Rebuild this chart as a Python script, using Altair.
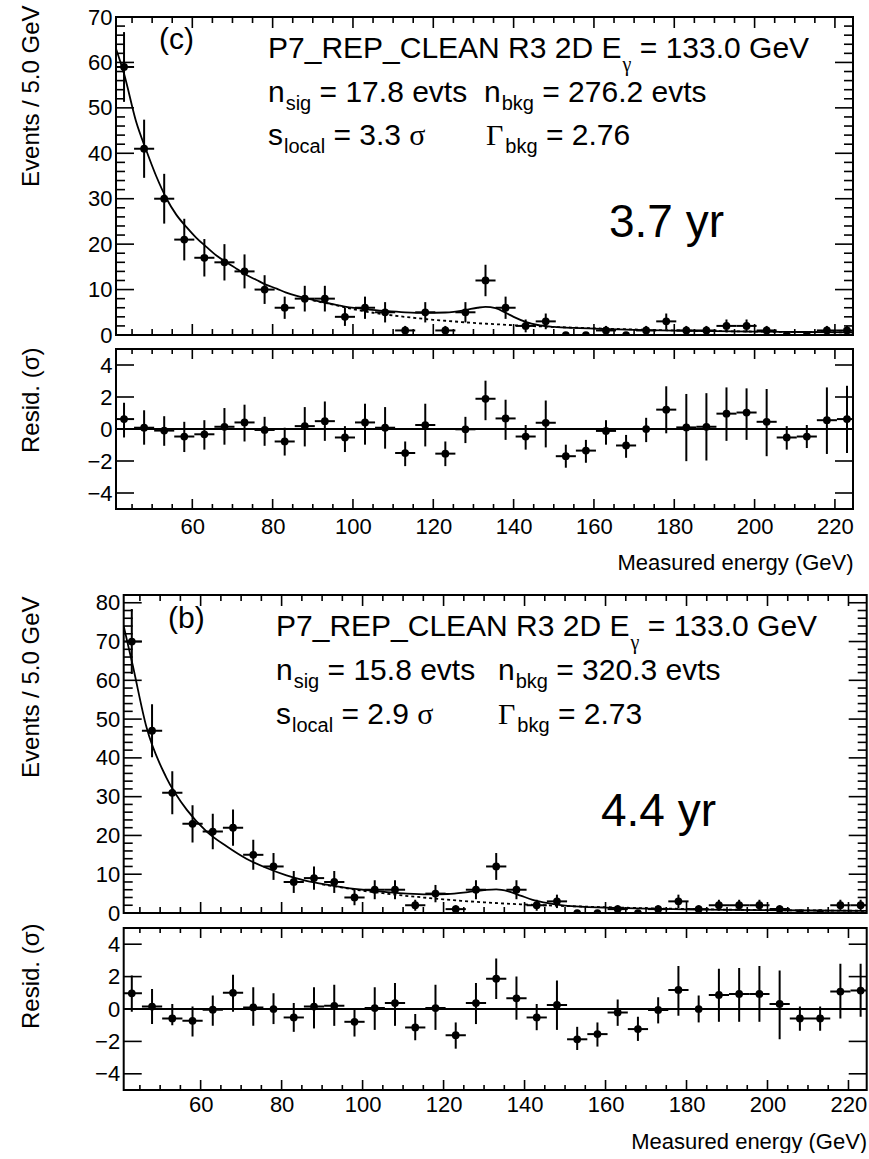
import math
import altair as alt
import pandas as pd

FONT = "Liberation Sans"
GREEK = "Liberation Serif"

# ---------------- data ----------------
ENERGY = [43, 48, 53, 58, 63, 68, 73, 78, 83, 88, 93, 98, 103, 108, 113, 118, 123,
          128, 133, 138, 143, 148, 153, 158, 163, 168, 173, 178, 183, 188, 193, 198,
          203, 208, 213, 218, 223]
HALF_BIN = 2.5

# (c) 3.7 yr
COUNTS_C = [59, 41, 30, 21, 17, 16, 14, 10, 6, 8, 8, 4, 6, 5, 1, 5, 1, 5, 12, 6,
            2, 3, 0, 0, 1, 0, 1, 3, 1, 1, 2, 2, 1, 0, 0, 1, 1]
RESID_C = [0.62, 0.08, -0.10, -0.47, -0.33, 0.14, 0.41, -0.06, -0.78, 0.18, 0.49, -0.53,
           0.41, 0.08, -1.50, 0.25, -1.54, -0.02, 1.89, 0.66, -0.47, 0.39, -1.70, -1.35,
           -0.12, -1.03, 0.00, 1.21, 0.10, 0.14, 0.96, 1.03, 0.45, -0.53, -0.47, 0.55, 0.62]
RESID_C_HI = [1.64, 1.17, 0.80, 0.45, 0.55, 1.31, 1.52, 0.76, 0.08, 1.37, 1.72, 0.18,
              1.58, 1.37, -0.78, 1.58, -0.78, 0.76, 3.02, 1.83, 0.25, 1.78, -0.98, -0.68,
              0.55, -0.37, 0.70, 2.67, 2.19, 2.24, 2.60, 2.54, 2.50, 0.18, 0.25, 2.60, 2.70]
RESID_C_LO = [-0.53, -0.98, -1.05, -1.44, -1.29, -0.98, -0.78, -1.05, -1.66, -1.09, -0.74, -1.44,
              -0.98, -1.23, -2.32, -1.09, -2.32, -0.88, 0.55, -0.68, -1.29, -1.15, -2.42, -2.11,
              -0.98, -1.80, -0.82, -0.27, -2.01, -1.97, -0.74, -0.68, -1.70, -1.29, -1.19, -1.56, -1.50]
CURVE_C_E = [41, 43, 46, 48.6, 51, 53.6, 56, 58.5, 61, 63.5, 66, 68.5, 71, 73.3, 76, 78.3,
             81, 83.2, 86, 88.2, 91, 93.1, 96, 98.3, 101, 104, 108, 113, 118, 123, 128, 131,
             133, 135.5, 138, 140, 143, 146, 150, 155, 160, 170, 180, 190, 200, 212, 224.5]
CURVE_C = [63, 57.5, 47, 40.5, 35, 30, 26.5, 23.8, 21.4, 19.4, 17.5, 16.0, 14.6, 13.3, 12.1, 11.1,
           10.2, 9.4, 8.6, 8.1, 7.5, 7.1, 6.6, 6.2, 5.9, 5.6, 5.3, 5.0, 4.85, 4.95, 5.5, 6.0,
           6.2, 5.9, 4.9, 4.0, 2.9, 2.2, 1.8, 1.55, 1.4, 1.15, 0.98, 0.85, 0.75, 0.66, 0.58]
BKG_C_E = [90, 96, 100, 105, 110, 115, 120, 125, 130, 135, 140, 145, 150, 160, 170, 180, 190,
           200, 212, 224.5]
BKG_C = [7.6, 6.5, 5.7, 4.9, 4.3, 3.8, 3.35, 3.0, 2.65, 2.4, 2.15, 1.95, 1.78, 1.48, 1.22,
         1.02, 0.87, 0.75, 0.65, 0.57]

# (b) 4.4 yr
COUNTS_B = [70, 47, 31, 23, 21, 22, 15, 12, 8, 9, 8, 4, 6, 6, 2, 5, 1, 6, 12, 6,
            2, 3, 0, 0, 1, 0, 1, 3, 1, 2, 2, 2, 1, 0, 0, 2, 2]
RESID_B = [0.97, 0.15, -0.58, -0.73, -0.04, 1.00, 0.10, 0.00, -0.52, 0.15, 0.20, -0.79,
           0.06, 0.37, -1.14, 0.06, -1.62, 0.37, 1.87, 0.66, -0.52, 0.25, -1.87, -1.55,
           -0.21, -1.24, -0.06, 1.18, 0.00, 0.87, 0.93, 0.93, 0.31, -0.58, -0.58, 1.08, 1.14]
RESID_B_HI = [2.07, 1.24, 0.31, 0.15, 0.83, 2.11, 1.35, 0.97, 0.37, 1.35, 1.49, 0.00,
              1.35, 1.60, -0.31, 1.49, -0.83, 1.60, 3.11, 2.00, 0.31, 1.76, -1.10, -0.83,
              0.58, -0.48, 0.73, 2.65, 0.83, 2.49, 2.53, 2.65, 2.38, 0.15, 0.15, 2.80, 2.80]
RESID_B_LO = [-0.17, -0.93, -1.00, -1.70, -1.04, -0.17, -1.04, -0.93, -1.41, -1.20, -1.04, -1.70,
              -1.29, -1.04, -1.93, -1.29, -2.45, -0.93, 0.62, -0.66, -1.31, -1.29, -2.53, -2.32,
              -1.04, -1.97, -0.89, -0.41, -0.83, -0.79, -0.79, -0.79, -1.87, -1.35, -1.35, -0.58, -0.48]
CURVE_B_E = [41, 43.2, 46.6, 51.5, 56.6, 61.5, 66.4, 71.3, 76.3, 81.2, 86.1, 91.1, 96, 101,
             106, 111, 116, 121, 126, 130, 133, 136, 139, 142, 146, 150, 155, 160, 170, 180,
             190, 200, 212, 224.5]
CURVE_B = [74, 64, 48, 35, 26.6, 21, 17.2, 14, 11.6, 9.7, 8.3, 7.3, 6.5, 5.9,
           5.4, 5.0, 4.8, 4.9, 5.4, 5.9, 6.1, 5.6, 4.5, 3.4, 2.5, 1.9, 1.6, 1.4, 1.12, 0.95,
           0.82, 0.72, 0.64, 0.57]
BKG_B_E = [90, 95, 100, 105, 110, 115, 120, 125, 130, 135, 140, 145, 150, 160, 170, 180, 190,
           200, 212, 224.5]
BKG_B = [7.4, 6.55, 5.75, 5.1, 4.5, 4.0, 3.5, 3.1, 2.75, 2.45, 2.2, 1.98, 1.8, 1.5, 1.24,
         1.04, 0.88, 0.76, 0.65, 0.56]

X_LABELS = [60, 80, 100, 120, 140, 160, 180, 200, 220]
X_MINOR = [45, 50, 55, 65, 70, 75, 85, 90, 95, 105, 110, 115, 125, 130, 135, 145, 150, 155,
           165, 170, 175, 185, 190, 195, 205, 210, 215]
Y_MAJOR_C = [0, 10, 20, 30, 40, 50, 60, 70]
Y_MAJOR_B = [0, 10, 20, 30, 40, 50, 60, 70, 80]
Y_MINOR_C = [v for v in range(2, 70, 2) if v % 10]
Y_MINOR_B = [v for v in range(2, 82, 2) if v % 10]
RESID_TICKS = [-4, -2, 0, 2, 4]

X_MIN, X_MAX = 41.0, 224.5

# ---------------- helpers ----------------
ADV = {" ": 278, "(": 333, ")": 333, ".": 278, "/": 278, "=": 584, "_": 556,
       "A": 667, "C": 722, "D": 722, "E": 667, "G": 778, "L": 556, "N": 722, "P": 667,
       "R": 722, "V": 667, "a": 556, "b": 556, "c": 500, "e": 556, "g": 556, "i": 222,
       "k": 500, "l": 222, "n": 556, "o": 556, "r": 333, "s": 500, "t": 278, "v": 500,
       "y": 500, "σ": 560, "γ": 450, "Γ": 610}


def tw(s, size):
    return sum(ADV.get(ch, 556) for ch in s) * size / 1000.0


MAIN_SIZE = 30
SUB_SIZE = 20
YR_SIZE = 46


def rich_line(segments, x0, y0):
    """segments: list of (text, kind) kind in n, s, g, gs -> list of text pieces"""
    out = []
    x = x0
    for text, kind in segments:
        size = MAIN_SIZE if kind in ("n", "g") else SUB_SIZE
        font = GREEK if kind in ("g", "gs") else FONT
        lead = len(text) - len(text.lstrip(" "))
        x += tw(" " * lead, size)
        body = text.lstrip(" ")
        dy = {"n": 0, "g": 0, "s": 8, "gs": 13}[kind]
        pad = 1 if kind in ("s", "gs") else 0
        out.append((body, x + pad, y0 + dy, size, font))
        x += tw(body, size) + pad
    return out


def text_layers(pieces, ox, oy):
    layers = []
    for text, x, y, size, font in pieces:
        layers.append(
            alt.Chart(pd.DataFrame({"k": [0]}))
            .mark_text(text=text, font=font, fontSize=size, color="black",
                       align="left", baseline="alphabetic")
            .encode(x=alt.value(x - ox), y=alt.value(y - oy))
        )
    return layers


def tick_layers(w, h, y_major, y_minor, xl_major, xl_minor, yl_major, yl_minor, X, Y):
    layers = []
    for vals, L in ((X_LABELS, xl_major), (X_MINOR, xl_minor)):
        d = pd.DataFrame({"e": vals})
        b = alt.Chart(d).mark_rule(color="black", strokeWidth=1.6)
        layers.append(b.encode(x=X("e"), y=alt.value(h), y2=alt.value(h - L)))
        layers.append(b.encode(x=X("e"), y=alt.value(0), y2=alt.value(L)))
    for vals, L in ((y_major, yl_major), (y_minor, yl_minor)):
        if not vals:
            continue
        d = pd.DataFrame({"v": vals})
        b = alt.Chart(d).mark_rule(color="black", strokeWidth=1.6)
        layers.append(b.encode(y=Y("v"), x=alt.value(0), x2=alt.value(L)))
        layers.append(b.encode(y=Y("v"), x=alt.value(w - L), x2=alt.value(w)))
    return layers


def y_axis(values, title_x, title_y):
    return alt.Axis(values=values, labelFontSize=22, labelFont=FONT, labelColor="black",
                    ticks=False, tickSize=0, domain=False, grid=False, labelPadding=4,
                    labelFlush=False, labelOverlap=False,
                    titleFontSize=24, titleFont=FONT, titleFontWeight="normal",
                    titleColor="black", titleAngle=270, titleAlign="right",
                    titleBaseline="bottom", titleX=title_x, titleY=title_y)


def main_panel(counts, ce, cv, be, bv, ymax, y_major, y_minor, w, h, pieces, ox, oy, tx, ty):
    df = pd.DataFrame({"e": ENERGY, "n": counts})
    df["elo"] = df["e"] - HALF_BIN
    df["ehi"] = df["e"] + HALF_BIN
    df["lo"] = [c - math.sqrt(c) for c in counts]
    df["hi"] = [c + math.sqrt(c) for c in counts]
    xs = alt.Scale(domain=[X_MIN, X_MAX], nice=False, zero=False)
    ys = alt.Scale(domain=[0, ymax], nice=False, zero=False)
    ax = y_axis(y_major, tx, ty)

    def X(f):
        return alt.X(f, type="quantitative", scale=xs, axis=None)

    def Y(f):
        return alt.Y(f, type="quantitative", scale=ys, axis=ax, title="Events / 5.0 GeV")

    cdf = pd.DataFrame({"e": ce, "v": cv})
    bdf = pd.DataFrame({"e": be, "v": bv})
    dotted = alt.Chart(bdf).mark_line(color="black", strokeWidth=1.8, strokeDash=[3, 3],
                                      interpolate="monotone", clip=True).encode(x=X("e"), y=Y("v"))
    solid = alt.Chart(cdf).mark_line(color="black", strokeWidth=1.8,
                                     interpolate="monotone", clip=True).encode(x=X("e"), y=Y("v"))
    base = alt.Chart(df)
    hbar = base.mark_rule(color="black", strokeWidth=2, clip=True).encode(
        x=X("elo"), x2="ehi", y=Y("n"))
    vbar = base.transform_filter("datum.n > 0").mark_rule(
        color="black", strokeWidth=2, clip=True).encode(x=X("e"), y=Y("lo"), y2="hi")
    pts = base.mark_point(filled=True, shape="circle", size=60, color="black",
                          opacity=1, clip=True).encode(x=X("e"), y=Y("n"))
    layers = [dotted, solid, hbar, vbar, pts]
    layers += tick_layers(w, h, y_major, y_minor, 11, 6, 18, 9, X, Y)
    layers += text_layers(pieces, ox, oy)
    return alt.layer(*layers).properties(width=w, height=h)


def resid_panel(res, hi, lo, w, h, tx, ty, label_pad, xt_y):
    df = pd.DataFrame({"e": ENERGY, "r": res, "hi": hi, "lo": lo})
    df["elo"] = df["e"] - HALF_BIN
    df["ehi"] = df["e"] + HALF_BIN
    xs = alt.Scale(domain=[X_MIN, X_MAX], nice=False, zero=False)
    ys = alt.Scale(domain=[-5, 5], nice=False, zero=False)
    yax = y_axis(RESID_TICKS, tx, ty)
    xax = alt.Axis(values=X_LABELS, labelFontSize=22, labelFont=FONT, labelColor="black",
                   ticks=False, tickSize=0, domain=False, grid=False, labelPadding=label_pad,
                   labelFlush=False, labelOverlap=False,
                   titleFontSize=22, titleFont=FONT, titleFontWeight="normal",
                   titleColor="black", titleAlign="right", titleBaseline="alphabetic",
                   titleX=w, titleY=xt_y)

    def X(f):
        return alt.X(f, type="quantitative", scale=xs, axis=xax, title="Measured energy (GeV)")

    def Y(f):
        return alt.Y(f, type="quantitative", scale=ys, axis=yax, title="Resid. (σ)")

    zero = alt.Chart(pd.DataFrame({"z": [0]})).mark_rule(color="black", strokeWidth=2).encode(
        y=Y("z"))
    base = alt.Chart(df)
    hbar = base.mark_rule(color="black", strokeWidth=2, clip=True).encode(
        x=X("elo"), x2="ehi", y=Y("r"))
    vbar = base.mark_rule(color="black", strokeWidth=2, clip=True).encode(
        x=X("e"), y=Y("lo"), y2="hi")
    pts = base.mark_point(filled=True, shape="circle", size=60, color="black",
                          opacity=1, clip=True).encode(x=X("e"), y=Y("r"))
    layers = [zero, hbar, vbar, pts]
    layers += tick_layers(w, h, RESID_TICKS, [], 10, 5, 18, 9, X, Y)
    return alt.layer(*layers).properties(width=w, height=h)


# ---------------- annotation text ----------------
TOP_O = (115, 15)
BOT_O = (122.7, 597)

top_pieces = [("(c)", 158, 47, MAIN_SIZE, FONT)]
top_pieces += rich_line([("P7_REP_CLEAN R3 2D E", "n"), ("γ", "gs"), (" = 133.0 GeV", "n")], 267, 56)
top_pieces += rich_line([("n", "n"), ("sig", "s"), (" = 17.8 evts", "n")], 267, 100)
top_pieces += rich_line([("n", "n"), ("bkg", "s"), (" = 276.2 evts", "n")], 483, 100)
top_pieces += rich_line([("s", "n"), ("local", "s"), (" = 3.3 ", "n"), ("σ", "g")], 267, 143)
top_pieces += rich_line([("Γ", "g"), ("bkg", "s"), (" = 2.76", "n")], 485, 143)
top_pieces += [("3.7 yr", 608, 235, YR_SIZE, FONT)]

bot_pieces = [("(b)", 167, 630, MAIN_SIZE, FONT)]
bot_pieces += rich_line([("P7_REP_CLEAN R3 2D E", "n"), ("γ", "gs"), (" = 133.0 GeV", "n")], 275, 638)
bot_pieces += rich_line([("n", "n"), ("sig", "s"), (" = 15.8 evts", "n")], 275, 682)
bot_pieces += rich_line([("n", "n"), ("bkg", "s"), (" = 320.3 evts", "n")], 497, 682)
bot_pieces += rich_line([("s", "n"), ("local", "s"), (" = 2.9 ", "n"), ("σ", "g")], 275, 726)
bot_pieces += rich_line([("Γ", "g"), ("bkg", "s"), (" = 2.73", "n")], 497, 726)
bot_pieces += [("4.4 yr", 600, 828, YR_SIZE, FONT)]

TOP_W, BOT_W = 737, 743
SHIFT = BOT_O[0] - TOP_O[0]  # bottom figure sits further right

main_c = main_panel(COUNTS_C, CURVE_C_E, CURVE_C, BKG_C_E, BKG_C, 70, Y_MAJOR_C, Y_MINOR_C,
                    TOP_W, 318, top_pieces, TOP_O[0], TOP_O[1], -73, -12)
resid_c = resid_panel(RESID_C, RESID_C_HI, RESID_C_LO, TOP_W, 160, -73, -2, 7, 60)
main_b = main_panel(COUNTS_B, CURVE_B_E, CURVE_B, BKG_B_E, BKG_B, 82, Y_MAJOR_B, Y_MINOR_B,
                    BOT_W, 318, bot_pieces, BOT_O[0], BOT_O[1], -73 - SHIFT, 1)
resid_b = resid_panel(RESID_B, RESID_B_HI, RESID_B_LO, BOT_W, 162, -73 - SHIFT, -5, 4, 58)

spacer = (
    alt.Chart(pd.DataFrame({"k": [0]}))
    .mark_point(opacity=0)
    .encode(x=alt.value(0), y=alt.value(0))
    .properties(width=1, height=1, view=alt.ViewBackground(strokeWidth=0, stroke="transparent"))
)

top_block = alt.vconcat(main_c, resid_c, spacing=14, bounds="flush")
bot_inner = alt.vconcat(main_b, resid_b, spacing=15, bounds="flush")
bot_block = alt.hconcat(spacer, bot_inner, spacing=SHIFT - 1, bounds="flush")

chart = (
    alt.vconcat(top_block, bot_block, spacing=16)
    .properties(padding={"left": 18, "top": 4, "right": 0, "bottom": 0}, background="white")
    .configure_view(stroke="black", strokeWidth=2)
)

chart.save("out.html", embed_options={"renderer": "svg", "actions": False})
